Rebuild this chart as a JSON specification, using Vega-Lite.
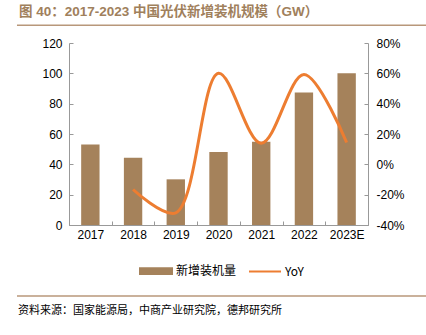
{
  "$schema": "https://vega.github.io/schema/vega-lite/v6.json",
  "padding": {"left": 16, "top": 4, "right": 0, "bottom": 0},
  "spacing": 11,
  "background": "white",
  "config": {"view": {"stroke": null}},
  "vconcat": [
    {
      "width": 358,
      "height": 8,
      "title": {"text": "图 40：2017-2023 中国光伏新增装机规模（GW）", "anchor": "start", "frame": "group", "dx": -50, "fontSize": 13.5, "fontWeight": "bold", "color": "#a0805c", "font": "Liberation Sans, Noto Sans CJK SC", "offset": 0},
      "data": {"values": [{"v": 0}]},
      "layer": [
        {
          "mark": {"type": "rule", "color": "#b8977a", "strokeWidth": 1.5},
          "encoding": {
            "x": {"datum": -0.1453, "type": "quantitative", "axis": null, "scale": {"domain": [0, 1], "nice": false, "zero": false}},
            "x2": {"datum": 1},
            "y": {"datum": 0.1, "type": "quantitative", "axis": null, "scale": {"domain": [0, 1]}}
          }
        }
      ]
    },
    {
      "width": 299,
      "height": 182,
      "data": {
        "values": [
          {"year": "2017", "gw": 53.06, "yoy": null},
          {"year": "2018", "gw": 44.26, "yoy": -0.166},
          {"year": "2019", "gw": 30.11, "yoy": -0.32},
          {"year": "2020", "gw": 48.2, "yoy": 0.6},
          {"year": "2021", "gw": 54.88, "yoy": 0.139},
          {"year": "2022", "gw": 87.41, "yoy": 0.593},
          {"year": "2023E", "gw": 100, "yoy": 0.144}
        ]
      },
      "encoding": {
        "x": {
          "field": "year", "type": "nominal", "sort": null,
          "scale": {"paddingInner": 0, "paddingOuter": 0},
          "axis": {"title": null, "labelAngle": 0, "tickBand": "extent", "tickSize": -4, "domainColor": "#999999", "tickColor": "#999999", "labelFontSize": 12, "labelColor": "#000000", "labelPadding": 8, "labelFont": "Liberation Sans", "grid": false}
        }
      },
      "layer": [
        {
          "mark": {"type": "bar", "width": {"band": 0.43}},
          "encoding": {
            "y": {
              "field": "gw", "type": "quantitative",
              "scale": {"domain": [0, 120], "nice": false},
              "axis": {"title": null, "values": [0, 20, 40, 60, 80, 100, 120], "tickSize": -4, "domainColor": "#999999", "tickColor": "#999999", "labelFontSize": 12, "labelColor": "#000000", "labelPadding": 11, "labelFont": "Liberation Sans", "grid": false, "minExtent": 52}
            },
            "color": {
              "datum": "新增装机量", "type": "nominal",
              "scale": {"domain": ["新增装机量", "YoY"], "range": ["#a5825b", "#ed7d31"]},
              "legend": {
                "title": null, "orient": "none", "direction": "horizontal", "legendX": 70, "legendY": 236,
                "labelFontSize": 12, "labelColor": "#000000", "labelFont": "Noto Sans CJK SC, Liberation Sans",
                "symbolSize": 1024, "columnPadding": 8, "labelOffset": 3,
                "encode": {
                  "symbols": {
                    "update": {
                      "shape": {"signal": "datum.value === 'YoY' ? 'M-1,0H1' : 'M-1,-0.18H1V0.18H-1Z'"},
                      "fill": {"signal": "datum.value === 'YoY' ? 'transparent' : '#a5825b'"},
                      "stroke": {"signal": "datum.value === 'YoY' ? '#ed7d31' : 'transparent'"},
                      "strokeWidth": {"value": 2},
                      "opacity": {"value": 1}
                    }
                  }
                }
              }
            }
          }
        },
        {
          "mark": {"type": "line", "interpolate": "catmull-rom", "strokeWidth": 3},
          "encoding": {
            "y": {
              "field": "yoy", "type": "quantitative",
              "scale": {"domain": [-0.4, 0.8], "nice": false},
              "axis": {"orient": "right", "title": null, "values": [-0.4, -0.2, 0, 0.2, 0.4, 0.6, 0.8], "labelExpr": "round(datum.value * 100) + '%'", "tickSize": -4, "domainColor": "#999999", "tickColor": "#999999", "labelFontSize": 12, "labelColor": "#000000", "labelPadding": 12, "labelFont": "Liberation Sans", "grid": false}
            },
            "color": {"datum": "YoY", "type": "nominal"}
          }
        }
      ],
      "resolve": {"scale": {"y": "independent"}}
    },
    {
      "width": 358,
      "height": 48,
      "title": {"text": "资料来源：国家能源局，中商产业研究院，德邦研究所", "orient": "bottom", "anchor": "start", "frame": "group", "dx": -51, "fontSize": 11, "fontWeight": "normal", "color": "#000000", "font": "Noto Sans CJK SC", "offset": 6},
      "data": {"values": [{"v": 0}]},
      "layer": [
        {
          "mark": {"type": "rule", "color": "#b8977a", "strokeWidth": 1.5},
          "encoding": {
            "x": {"datum": -0.1453, "type": "quantitative", "axis": null, "scale": {"domain": [0, 1], "nice": false, "zero": false}},
            "x2": {"datum": 1},
            "y": {"datum": 0.0625, "type": "quantitative", "axis": null, "scale": {"domain": [0, 1]}}
          }
        }
      ]
    }
  ]
}
